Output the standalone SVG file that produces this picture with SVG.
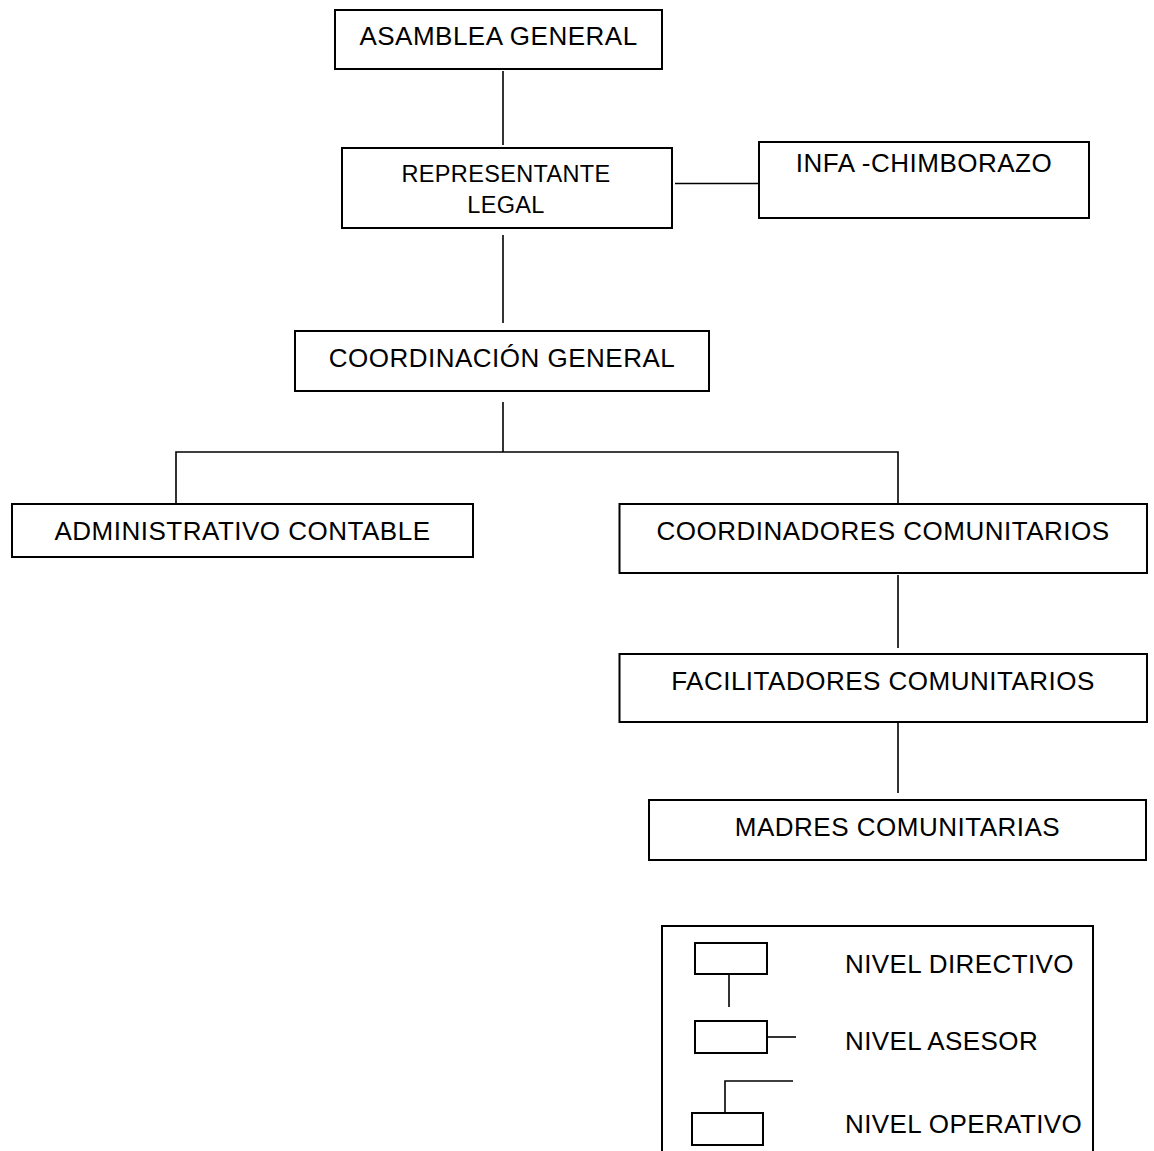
<svg xmlns="http://www.w3.org/2000/svg" width="1154" height="1151" viewBox="0 0 1154 1151">
  <style>
    .box { fill: #ffffff; stroke: #000000; stroke-width: 2; }
    .link { fill: none; stroke: #000000; stroke-width: 1.6; }
    .label { font-family: "Liberation Sans", Arial, sans-serif; font-size: 26px; letter-spacing: 0.5px; fill: #000000; text-anchor: middle; }
    .small { font-size: 23.5px; letter-spacing: 0.35px; }
    .key { font-family: "Liberation Sans", Arial, sans-serif; font-size: 26px; letter-spacing: 0.4px; fill: #000000; }
  </style>
  <rect width="1154" height="1151" fill="#ffffff"/>

  <!-- connectors -->
  <g id="connectors">
    <line class="link" x1="503" y1="71" x2="503" y2="145"/>
    <line class="link" x1="675" y1="183.5" x2="759" y2="183.5"/>
    <line class="link" x1="503" y1="235" x2="503" y2="323"/>
    <line class="link" x1="503" y1="402" x2="503" y2="452"/>
    <polyline class="link" points="176,504 176,452 898,452 898,504"/>
    <line class="link" x1="898" y1="575" x2="898" y2="648"/>
    <line class="link" x1="898" y1="722" x2="898" y2="793"/>
  </g>

  <!-- nodes -->
  <g id="asamblea-general">
    <rect class="box" x="335" y="10" width="327" height="59"/>
    <text class="label" x="498.5" y="45">ASAMBLEA GENERAL</text>
  </g>
  <g id="representante-legal">
    <rect class="box" x="342" y="148" width="330" height="80"/>
    <text class="label small" x="506" y="181.5">REPRESENTANTE</text>
    <text class="label small" x="506" y="213">LEGAL</text>
  </g>
  <g id="infa-chimborazo">
    <rect class="box" x="759" y="142" width="330" height="76"/>
    <text class="label" x="924" y="172">INFA -CHIMBORAZO</text>
  </g>
  <g id="coordinacion-general">
    <rect class="box" x="295" y="331" width="414" height="60"/>
    <text class="label" x="502" y="367">COORDINACIÓN GENERAL</text>
  </g>
  <g id="administrativo-contable">
    <rect class="box" x="12" y="504" width="461" height="53"/>
    <text class="label" x="242.5" y="540">ADMINISTRATIVO CONTABLE</text>
  </g>
  <g id="coordinadores-comunitarios">
    <rect class="box" x="619.5" y="504" width="527.5" height="69"/>
    <text class="label" x="883" y="540">COORDINADORES COMUNITARIOS</text>
  </g>
  <g id="facilitadores-comunitarios">
    <rect class="box" x="619.5" y="654" width="527.5" height="68"/>
    <text class="label" x="883" y="690">FACILITADORES COMUNITARIOS</text>
  </g>
  <g id="madres-comunitarias">
    <rect class="box" x="649" y="800" width="497" height="60"/>
    <text class="label" x="897.5" y="836">MADRES COMUNITARIAS</text>
  </g>

  <!-- legend -->
  <g id="legend">
    <polyline class="box" points="662,1152 662,926 1093,926 1093,1152"/>
    <rect class="box" x="695" y="943" width="72" height="31"/>
    <line class="link" x1="729" y1="974" x2="729" y2="1007"/>
    <text class="key" x="845" y="973">NIVEL DIRECTIVO</text>
    <rect class="box" x="695" y="1021" width="72" height="32"/>
    <line class="link" x1="767" y1="1037" x2="796" y2="1037"/>
    <text class="key" x="845" y="1050">NIVEL ASESOR</text>
    <polyline class="link" points="725,1113 725,1081 793,1081"/>
    <rect class="box" x="692" y="1113" width="71" height="32"/>
    <text class="key" x="845" y="1132.5">NIVEL OPERATIVO</text>
  </g>
</svg>
